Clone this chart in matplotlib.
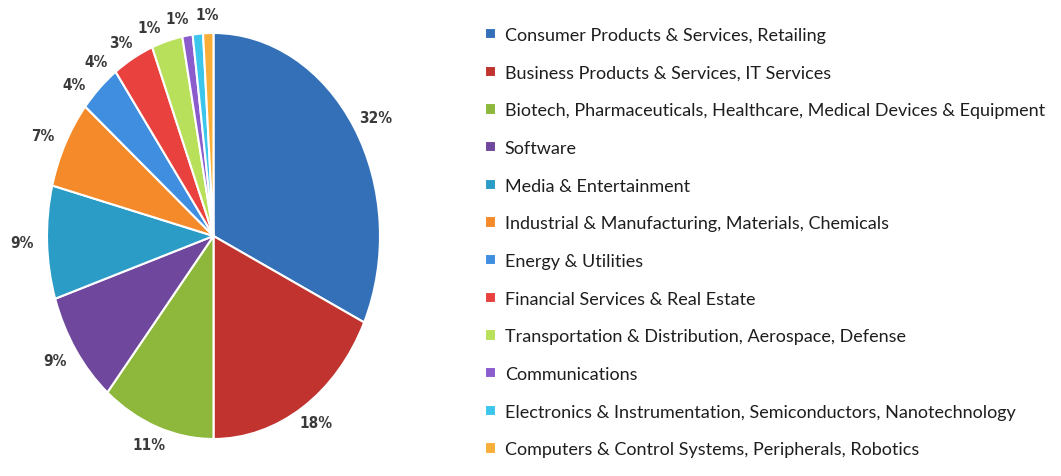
import matplotlib.pyplot as plt
import numpy as np

sectors = [
    "Consumer Products & Services, Retailing",
    "Business Products & Services, IT Services",
    "Biotech, Pharmaceuticals, Healthcare, Medical Devices & Equipment",
    "Software",
    "Media & Entertainment",
    "Industrial & Manufacturing, Materials, Chemicals",
    "Energy & Utilities",
    "Financial Services & Real Estate",
    "Transportation & Distribution, Aerospace, Defense",
    "Communications",
    "Electronics & Instrumentation, Semiconductors, Nanotechnology",
    "Computers & Control Systems, Peripherals, Robotics",
]
shares = [32, 18, 11, 9, 9, 7, 4, 4, 3, 1, 1, 1]
colors = ["#3470b8", "#c0332e", "#8db83c", "#6f479c", "#2b9cc6", "#f58a2a",
          "#3f8ee0", "#e8413e", "#b8e05a", "#8a5ccc", "#3cc6ec", "#f9ae38"]

W, H = 1061, 477
fig = plt.figure(figsize=(W / 100, H / 100), dpi=100)

# the pie is stretched into an ellipse, so the axes keep a free aspect
ax = fig.add_axes([47 / W, 1 - 440 / H, 333 / W, 406 / H])
wedges, _ = ax.pie(shares, colors=colors, startangle=90, counterclock=False,
                   radius=1, wedgeprops=dict(edgecolor="white", linewidth=1.5))
ax.set_aspect("auto")
ax.set_xlim(-1, 1)
ax.set_ylim(-1, 1)
ax.axis("off")

# label angles: wedge mid-angles, pushed apart where the wedges are thin
mids = [(w.theta1 + w.theta2) / 2 for w in wedges]
angs = [0.0] * len(mids)
angs[-1] = mids[-1] % 360
min_sep = 9
for i in range(len(mids) - 2, -1, -1):
    a = angs[i + 1] + ((mids[i] - angs[i + 1] + 180) % 360 - 180)
    angs[i] = max(a, angs[i + 1] + min_sep)

for a, s in zip(angs, shares):
    t = np.deg2rad(a)
    ax.text(1.15 * np.cos(t), 1.09 * np.sin(t), "%d%%" % s, ha="center",
            va="center", fontsize=11, fontweight="bold", color="#3a3a3a",
            family=["Liberation Sans Narrow", "Noto Sans Condensed", "DejaVu Sans"],
            fontstretch="condensed", clip_on=False)

fig.legend(wedges, sectors, loc="upper left", bbox_to_anchor=(485 / W, 1 - 28 / H),
           frameon=False, prop=dict(family="Lato", size=13),
           labelcolor="#1e1e1e",
           handlelength=0.6, handleheight=0.6, handletextpad=0.5,
           labelspacing=1.2, borderaxespad=0, borderpad=0)

fig.savefig("out.png", dpi=100)
